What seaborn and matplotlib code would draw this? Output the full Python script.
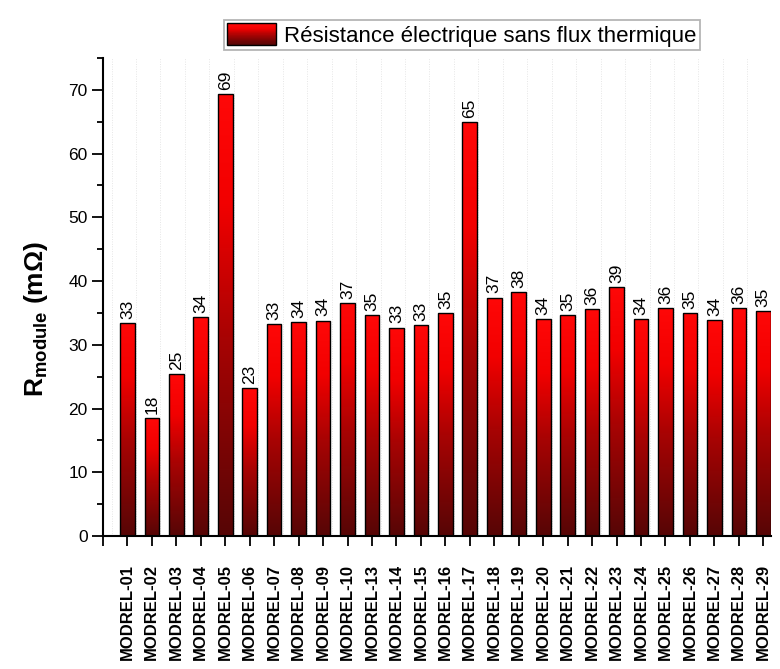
import numpy as np
import pandas as pd
import matplotlib
matplotlib.use("Agg")
import matplotlib.pyplot as plt
import seaborn as sns
from matplotlib.colors import LinearSegmentedColormap
from matplotlib.patches import Rectangle
from matplotlib.legend_handler import HandlerBase
from matplotlib.ticker import MultipleLocator

# Module names and measured electrical resistance (mOhm), no heat flux
modules = ["MODREL-01", "MODREL-02", "MODREL-03", "MODREL-04", "MODREL-05",
           "MODREL-06", "MODREL-07", "MODREL-08", "MODREL-09", "MODREL-10",
           "MODREL-13", "MODREL-14", "MODREL-15", "MODREL-16", "MODREL-17",
           "MODREL-18", "MODREL-19", "MODREL-20", "MODREL-21", "MODREL-22",
           "MODREL-23", "MODREL-24", "MODREL-25", "MODREL-26", "MODREL-27",
           "MODREL-28", "MODREL-29"]
resistance = [33.4, 18.5, 25.4, 34.4, 69.4, 23.2, 33.3, 33.6, 33.8, 36.6,
              34.6, 32.7, 33.1, 35.0, 64.9, 37.4, 38.3, 34.1, 34.6, 35.6,
              39.0, 34.1, 35.8, 35.0, 33.9, 35.7, 35.3]
series_label = "Résistance électrique sans flux thermique"
y_ticks = [0, 10, 20, 30, 40, 50, 60, 70]

sns.set_theme(style="white")
plt.rcParams["font.family"] = ["Liberation Sans", "DejaVu Sans"]
plt.rcParams["mathtext.fontset"] = "custom"
plt.rcParams["mathtext.rm"] = "Liberation Sans"
plt.rcParams["mathtext.bf"] = "Liberation Sans:bold"
plt.rcParams["text.color"] = "black"
plt.rcParams["axes.labelcolor"] = "black"
plt.rcParams["xtick.color"] = "black"
plt.rcParams["ytick.color"] = "black"

bar_cmap = LinearSegmentedColormap.from_list(
    "redfade",
    [(0.0, "#560606"), (0.45, "#a80303"), (0.75, "#f20000"), (1.0, "#ff0808")])

fig = plt.figure(figsize=(7.8, 6.69), dpi=100)
fig.patch.set_facecolor("white")
ax = fig.add_axes([0.132, 0.1988, 0.856, 0.7145])

df = pd.DataFrame({"module": modules, "R": resistance})
sns.barplot(data=df, x="module", y="R", width=0.6, color="red",
            edgecolor="black", linewidth=1.0, ax=ax, zorder=2)

# faint dotted vertical guides
for k in range(-1, len(modules)):
    ax.axvline(k + 0.35, color="#e6e6e6", lw=0.7, ls=(0, (1, 1.5)), zorder=0)

# vertical gradient fill inside each bar
grad = np.linspace(0, 1, 256).reshape(-1, 1)
for p in ax.patches:
    x0, w, h = p.get_x(), p.get_width(), p.get_height()
    im = ax.imshow(grad, cmap=bar_cmap, origin="lower", aspect="auto",
                   extent=[x0, x0 + w, 0, h], interpolation="bicubic", zorder=1.9)
    im.set_clip_path(p)
    p.set_facecolor("none")

# value labels above bars
for i, v in enumerate(resistance):
    ax.annotate(f"{v:.0f}", xy=(i, v), xytext=(0, 3), textcoords="offset points",
                rotation=90, ha="center", va="bottom", fontsize=12.5, color="black")

ax.set_xlim(-1, len(modules) - 0.7)
ax.set_ylim(0, 75)
ax.set_yticks(y_ticks)
ax.yaxis.set_minor_locator(MultipleLocator(5))
ax.set_xticks(range(len(modules)))
ax.set_xticks([-1], minor=True)
ax.set_xticklabels(modules, rotation=90, fontweight="bold", fontsize=12)
ax.tick_params(axis="x", which="both", direction="out", length=7, width=1.3,
               pad=13, bottom=True, colors="black")
ax.tick_params(axis="y", which="major", direction="out", length=8, width=1.3,
               labelsize=12.5, left=True, pad=3, colors="black")
ax.tick_params(axis="y", which="minor", direction="out", length=4.5, width=1.3,
               left=True, colors="black")

for s in ["top", "right"]:
    ax.spines[s].set_visible(False)
for s in ["left", "bottom"]:
    ax.spines[s].set_linewidth(1.5)
    ax.spines[s].set_color("black")

ax.set_xlabel("")
ax.set_ylabel(r"$\mathbf{R}_{\mathbf{module}}$ (mΩ)", fontsize=19,
              fontweight="bold", color="black")
ax.yaxis.set_label_coords(-0.08, 0.454)


class GradientHandler(HandlerBase):
    def create_artists(self, legend, orig_handle, xdescent, ydescent,
                       width, height, fontsize, trans):
        n = 40
        arts = []
        for i in range(n):
            arts.append(Rectangle((-xdescent, -ydescent + i * height / n),
                                  width, height / n * 1.05,
                                  facecolor=bar_cmap(i / (n - 1)),
                                  edgecolor="none", transform=trans))
        arts.append(Rectangle((-xdescent, -ydescent), width, height,
                              facecolor="none", edgecolor="black", lw=1.0,
                              transform=trans))
        return arts


handle = Rectangle((0, 0), 1, 1)
leg = ax.legend(handles=[handle], labels=[series_label],
                handler_map={handle: GradientHandler()},
                loc="upper center", bbox_to_anchor=(462 / 780, 1 - 20 / 669),
                bbox_transform=fig.transFigure, fontsize=16, frameon=True,
                fancybox=False, edgecolor="#b5b5b5", framealpha=1,
                borderpad=0.15, handlelength=2.2, handleheight=1.1,
                handletextpad=0.35, borderaxespad=0)
leg.get_frame().set_linewidth(1.3)
for t in leg.get_texts():
    t.set_color("black")

fig.savefig("out.png", dpi=100, facecolor="white")
